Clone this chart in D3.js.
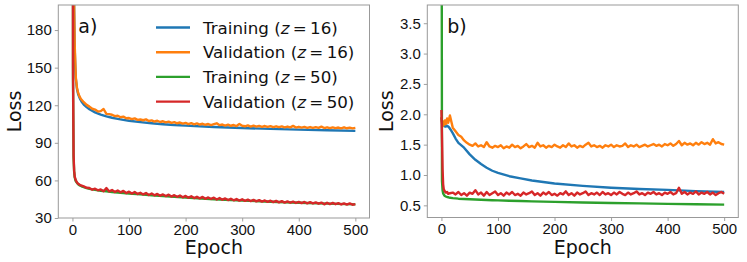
<!DOCTYPE html>
<html>
<head>
<meta charset="utf-8">
<script src="https://cdn.jsdelivr.net/npm/d3@7"></script>
<style>
  body { margin: 0; background: #fff; }
  svg { display: block; font-family: "DejaVu Sans", sans-serif; }
</style>
</head>
<body>
<svg id="chart" width="747" height="262"></svg>
<script>
// epochs sampled for smooth training curves and for noisy validation curves
const epochsSmooth = [0, 1, 2, 3, 4, 5, 6, 8, 10, 13, 16, 20, 25, 30, 40, 50, 60, 70, 80, 90, 100,
    120, 140, 160, 180, 200, 250, 300, 350, 400, 450, 500]
const epochsNoisy = [0, 1, 2, 3, 4, 6, 8, 10, 12, 15].concat(d3.range(20, 501, 5))

// panel a)
const trainA16 = [900, 400, 250, 195, 165, 150, 141, 133, 129, 125.5, 123, 120.5, 118.5, 116.8, 114.3, 112.5,
    111.1, 110.0, 109.1, 108.3, 107.6, 106.5, 105.6, 104.8, 104.2, 103.7, 102.6, 101.8, 101.1, 100.5, 100.0, 99.5]
const valA16 = [900, 420, 255, 198, 168, 142, 134, 130, 127.5, 125,
    122.4, 120.3, 118.9, 117.2, 116.5, 115.0, 115.3, 117.0, 113.1, 112.9, 112.4, 111.3, 111.6, 110.4, 110.9, 109.6,
    109.8, 108.9, 109.5, 108.3, 108.6, 108.0, 108.7, 107.4, 107.9, 107.0, 107.6, 106.6, 107.2, 106.3, 106.9, 105.9,
    106.5, 105.6, 106.2, 105.3, 105.9, 105.0, 105.7, 104.8, 105.5, 104.6, 105.2, 104.4, 105.0, 104.2, 104.9, 105.6,
    104.1, 104.6, 103.8, 104.5, 103.6, 104.2, 103.4, 105.0, 103.6, 103.2, 103.9, 103.0, 103.7, 102.9, 103.5, 102.8,
    103.4, 102.7, 103.3, 102.6, 103.2, 102.5, 103.1, 102.4, 103.0, 102.3, 103.5, 102.2, 102.8, 102.1, 102.7, 102.0,
    102.6, 101.9, 102.5, 101.9, 102.9, 101.8, 102.4, 101.7, 102.3, 101.7, 102.2, 101.6, 102.4, 101.6, 102.1, 101.5, 101.9]
const trainA50 = [900, 140, 78, 67, 62.5, 60.5, 59.3, 58, 57, 56, 55.3, 54.6, 53.8, 53.2, 52.4, 51.8,
    51.3, 50.8, 50.4, 50.0, 49.6, 48.9, 48.2, 47.6, 47.0, 46.4, 45.0, 43.9, 43.0, 42.2, 41.5, 40.9]
const valA50 = [900, 150, 80, 68, 63, 60, 58.4, 57.3, 56.8, 56.0,
    55.2, 54.1, 53.9, 52.6, 53.4, 52.1, 52.8, 51.4, 53.9, 51.2, 52.3, 50.8, 51.9, 50.5, 51.6, 49.9,
    51.0, 49.5, 50.7, 49.2, 50.1, 48.8, 49.9, 48.4, 49.6, 48.1, 49.2, 47.8, 48.8, 47.5, 48.6, 47.1,
    48.2, 46.9, 47.9, 46.5, 47.6, 46.2, 47.3, 45.9, 46.9, 45.7, 46.8, 45.3, 46.4, 45.2, 46.2, 44.8,
    45.9, 44.6, 45.6, 44.3, 45.4, 44.1, 45.1, 43.9, 44.9, 43.7, 44.7, 43.5, 44.5, 43.3, 44.3, 43.1,
    44.0, 42.9, 43.8, 42.7, 43.7, 42.5, 43.5, 42.3, 43.3, 42.2, 43.1, 42.0, 42.9, 41.9, 42.8, 41.7,
    42.6, 41.6, 42.4, 41.4, 42.3, 40.9, 42.2, 41.1, 42.0, 41.0, 41.9, 40.8, 41.7, 40.7, 41.6, 40.6, 41.1]

// panel b)
const trainB16 = [1.95, 1.88, 1.85, 1.83, 1.82, 1.81, 1.80, 1.80, 1.81, 1.79, 1.75, 1.69, 1.60, 1.53, 1.45, 1.34,
    1.25, 1.18, 1.12, 1.07, 1.035, 0.98, 0.945, 0.91, 0.885, 0.86, 0.82, 0.79, 0.77, 0.755, 0.735, 0.72]
const valB16 = [1.95, 1.85, 1.80, 1.88, 1.82, 1.90, 1.84, 1.93, 1.86, 1.98,
    1.78, 1.72, 1.66, 1.63, 1.57, 1.53, 1.50, 1.48, 1.52, 1.47, 1.49, 1.46, 1.54, 1.47, 1.45, 1.48,
    1.46, 1.49, 1.44, 1.47, 1.45, 1.50, 1.46, 1.48, 1.44, 1.47, 1.51, 1.46, 1.48, 1.45, 1.53, 1.47,
    1.49, 1.45, 1.48, 1.46, 1.50, 1.47, 1.45, 1.49, 1.46, 1.52, 1.47, 1.49, 1.45, 1.48, 1.46, 1.50,
    1.53, 1.47, 1.49, 1.46, 1.48, 1.45, 1.49, 1.47, 1.50, 1.46, 1.49, 1.47, 1.48, 1.52, 1.46, 1.49,
    1.47, 1.50, 1.46, 1.48, 1.50, 1.47, 1.49, 1.51, 1.48, 1.50, 1.47, 1.51, 1.49, 1.52, 1.48, 1.51,
    1.56, 1.49, 1.53, 1.50, 1.52, 1.49, 1.53, 1.50, 1.54, 1.51, 1.53, 1.50, 1.59, 1.52, 1.54, 1.51, 1.50]
const trainB50 = [8, 0.9, 0.75, 0.70, 0.68, 0.665, 0.655, 0.645, 0.638, 0.63, 0.625, 0.62, 0.615, 0.61, 0.605, 0.60,
    0.596, 0.592, 0.588, 0.585, 0.582, 0.576, 0.571, 0.566, 0.561, 0.557, 0.548, 0.54, 0.532, 0.525, 0.518, 0.512]
const valB50 = [2.07, 1.6, 1.1, 0.85, 0.77, 0.73, 0.71, 0.72, 0.69, 0.70,
    0.71, 0.68, 0.72, 0.67, 0.70, 0.66, 0.71, 0.69, 0.75, 0.68, 0.71, 0.66, 0.72, 0.67, 0.70, 0.73,
    0.67, 0.70, 0.66, 0.71, 0.68, 0.72, 0.67, 0.69, 0.66, 0.71, 0.68, 0.70, 0.73, 0.67, 0.70, 0.66,
    0.71, 0.68, 0.72, 0.67, 0.69, 0.66, 0.70, 0.68, 0.73, 0.67, 0.70, 0.66, 0.71, 0.68, 0.70, 0.73,
    0.67, 0.70, 0.68, 0.71, 0.67, 0.72, 0.68, 0.70, 0.67, 0.71, 0.68, 0.72, 0.69, 0.67, 0.71, 0.68,
    0.70, 0.73, 0.68, 0.70, 0.67, 0.71, 0.69, 0.72, 0.68, 0.70, 0.67, 0.71, 0.69, 0.72, 0.68, 0.70,
    0.79, 0.69, 0.72, 0.68, 0.71, 0.69, 0.73, 0.68, 0.71, 0.69, 0.72, 0.68, 0.71, 0.67, 0.70, 0.72, 0.69]

const xTicks = [0, 100, 200, 300, 400, 500]
const yTicksA = [30, 60, 90, 120, 150, 180]
const yTicksB = [0.5, 1.0, 1.5, 2.0, 2.5, 3.0, 3.5]
const legendNames = ["Training", "Validation", "Training", "Validation"]
const legendZ = ["16", "16", "50", "50"]
const colors = ["#1f77b4", "#ff7f0e", "#2ca02c", "#d62728"]

const svg = d3.select("#chart")

function panel(id, box, yDomain, yTicks, yFmt, series, tag, lossX) {
    const x = d3.scaleLinear().domain([-25, 525]).range([box.left, box.right])
    const y = d3.scaleLinear().domain(yDomain).range([box.bottom, box.top])

    const g = svg.append("g")

    g.append("clipPath").attr("id", "clip" + id)
        .append("rect")
        .attr("x", box.left).attr("y", box.top)
        .attr("width", box.right - box.left).attr("height", box.bottom - box.top)

    const line = d3.line().x(d => x(d[0])).y(d => y(d[1]))

    series.forEach((s, i) => {
        g.append("path")
            .attr("clip-path", `url(#clip${id})`)
            .attr("d", line(d3.zip(s.epochs, s.values)))
            .attr("fill", "none")
            .attr("stroke", colors[i])
            .attr("stroke-width", 2.4)
            .attr("stroke-linejoin", "round")
    })

    const xAxis = g.append("g")
        .attr("transform", `translate(0,${box.bottom})`)
        .call(d3.axisBottom(x).tickValues(xTicks).tickSize(3.5).tickPadding(2.5).tickFormat(d3.format("d")))
    const yAxis = g.append("g")
        .attr("transform", `translate(${box.left},0)`)
        .call(d3.axisLeft(y).tickValues(yTicks).tickSize(3.5).tickPadding(3).tickFormat(yFmt))

    for (const a of [xAxis, yAxis]) {
        a.select(".domain").remove()
        a.selectAll(".tick line").attr("stroke", "#888").attr("stroke-width", 0.8)
        a.selectAll(".tick text").attr("fill", "#111").style("font-size", "15px")
    }

    g.append("rect")
        .attr("x", box.left).attr("y", box.top)
        .attr("width", box.right - box.left).attr("height", box.bottom - box.top)
        .attr("fill", "none").attr("stroke", "#999").attr("stroke-width", 1)

    g.append("text")
        .attr("x", (box.left + box.right) / 2).attr("y", 253.5)
        .attr("text-anchor", "middle").style("font-size", "19px").attr("fill", "#111")
        .text("Epoch")

    g.append("text")
        .attr("transform", `translate(${lossX},${(box.top + box.bottom) / 2}) rotate(-90)`)
        .attr("text-anchor", "middle").style("font-size", "19px").attr("fill", "#111")
        .text("Loss")

    g.append("text")
        .attr("x", box.left + 20).attr("y", 33)
        .style("font-size", "19px").attr("fill", "#111")
        .text(tag)
}

panel("a", {left: 58.3, right: 369.5, top: 5, bottom: 218}, [30, 200], yTicksA, d3.format("d"), [
    {epochs: epochsSmooth, values: trainA16},
    {epochs: epochsNoisy, values: valA16},
    {epochs: epochsSmooth, values: trainA50},
    {epochs: epochsNoisy, values: valA50}
], "a)", 21)

panel("b", {left: 427.3, right: 738.3, top: 5, bottom: 217.5}, [0.3, 3.8], yTicksB, d3.format(".1f"), [
    {epochs: epochsSmooth, values: trainB16},
    {epochs: epochsNoisy, values: valB16},
    {epochs: epochsSmooth, values: trainB50},
    {epochs: epochsNoisy, values: valB50}
], "b)", 393)

// legend in panel a
const legend = svg.append("g")
legendNames.forEach((name, i) => {
    const base = 33.5 + i * 24.7
    legend.append("line")
        .attr("x1", 156).attr("x2", 190)
        .attr("y1", base - 6).attr("y2", base - 6)
        .attr("stroke", colors[i]).attr("stroke-width", 2.4)
    const t = legend.append("text")
        .attr("x", 203).attr("y", base)
        .style("font-size", "16.7px").attr("fill", "#111")
    t.append("tspan").text(name + " (")
    t.append("tspan").style("font-style", "italic").text("z")
    t.append("tspan").text("\u2009=\u2009" + legendZ[i] + ")")
})
</script>
</body>
</html>
